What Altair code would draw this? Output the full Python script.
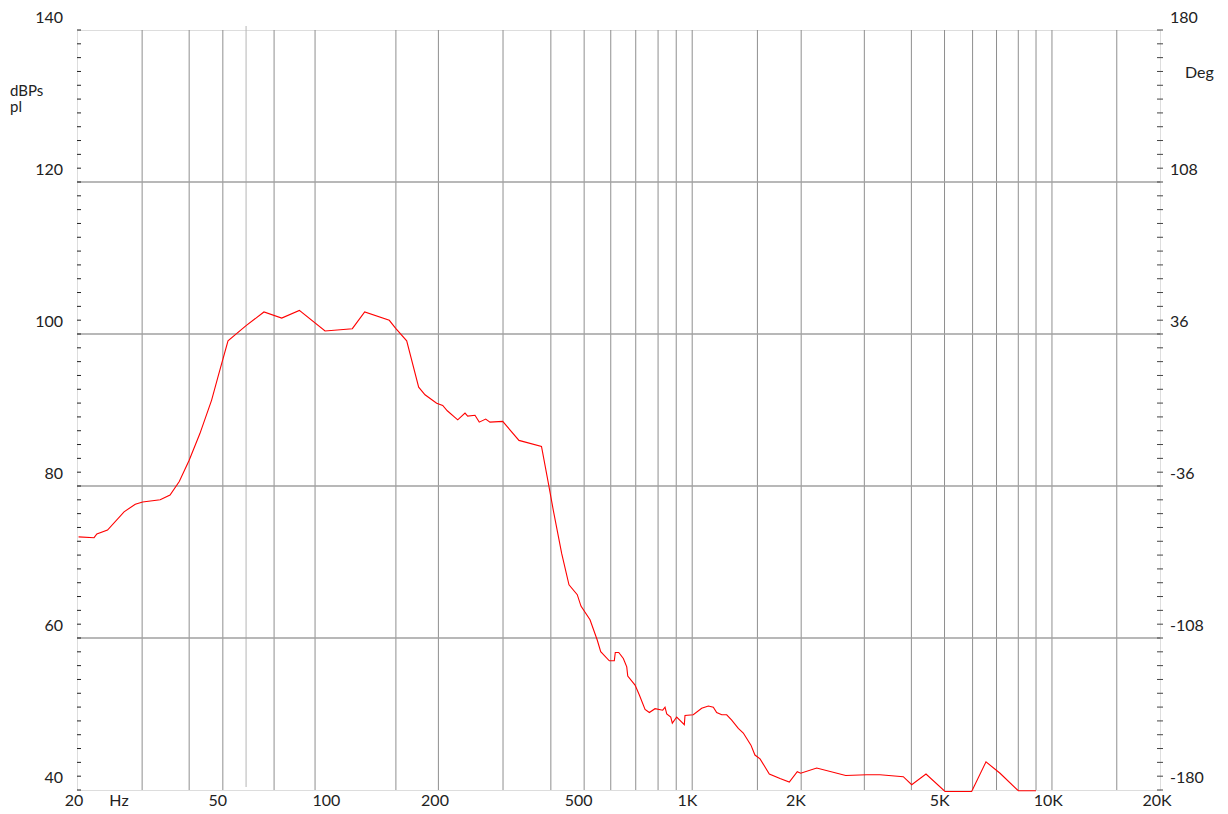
import altair as alt
import pandas as pd

# ---- data ----
freq_hz = [20.2, 22.3, 22.7, 24.3, 27.0, 29.0, 30.4, 34.0, 36.2, 38.4, 40.9, 43.8, 47.2, 49.3, 52.4,
           58.8, 65.9, 73.8, 82.6, 97.3, 115.8, 125.3, 146.6, 152.7, 163.8,
           176.8, 184.1, 198.3, 206.1, 212.2, 226.8, 237.6, 241.7, 253.2, 260.2, 271.1, 278.6, 302.2,
           335.2, 387, 404.2, 417.3, 440.3, 461.2, 486.2, 497.8, 527.4, 552.5, 564.6, 596.4, 615.8, 619.6, 633.4, 652.3, 666.6, 670.9,
           702.9, 722.4, 749.2, 770, 798.4, 838.6, 851, 860.3, 882.6, 891.5, 916.8, 962.4, 966.6,
           1019, 1075, 1122, 1158, 1183, 1222, 1261, 1302, 1358, 1402, 1472, 1510, 1560, 1655, 1772, 1880,
           1978, 2022, 2239, 2694, 3080, 3352, 3890, 4104, 4496, 5076, 6016, 6592, 7210, 8100, 9070]
spl_db = [73.3, 73.2, 73.7, 74.2, 76.6, 77.6, 77.9, 78.2, 78.8, 80.6, 83.4, 86.9, 91.3, 94.6, 99.1,
          101.1, 102.9, 102.1, 103.1, 100.4, 100.7, 102.9, 101.8, 100.75, 99.1,
          93.0, 92.0, 90.9, 90.6, 89.9, 88.7, 89.6, 89.2, 89.3, 88.4, 88.8, 88.4, 88.5,
          86.0, 85.2, 80.4, 76.8, 71.1, 67.0, 65.7, 64.2, 62.4, 59.7, 58.2, 57.0, 57.0, 58.1, 58.1, 57.3, 56.2, 55.0,
          53.8, 52.5, 50.6, 50.2, 50.7, 50.5, 50.9, 50.0, 49.6, 48.8, 49.6, 48.6, 49.8,
          49.9, 50.75, 51.05, 50.9, 50.2, 49.9, 49.9, 49.2, 48.1, 47.5, 45.9, 44.6, 44.1, 42.1, 41.5, 41.05,
          42.4, 42.2, 42.9, 41.9, 42.0, 42.0, 41.75, 40.7, 42.1, 39.8, 39.8, 43.7, 42.2, 39.9, 39.9]

grid_freqs = [30.3, 40.9, 50.7, 70.3, 91.3, 152.9, 200.5, 302.8, 410.8, 508, 602, 706, 814, 914, 1012,
              1534, 2028, 3034, 4096, 5060, 6052, 7050, 8100, 9070, 10040, 15180]
marker_freqs = [58.8]
grid_db = [60, 80, 100, 120]

left_label_db = [140, 120, 100, 80, 60, 40]
left_labels = ["140", "120", "100", "80", "60", "40"]
right_labels = ["180", "108", "36", "-36", "-108", "-180"]
x_label_freqs = [20, 50, 100, 200, 500, 1000, 2000, 5000, 10000, 20000]
x_labels = ["20", "50", "100", "200", "500", "1K", "2K", "5K", "10K", "20K"]
n_minor = 55
minor_ticks = [40 + k * 100 / n_minor for k in range(n_minor + 1)]

W, H = 1083, 760
FONT = "Lato"
TXT = "#222222"
GRID = "#8f8f8f"

xs = alt.Scale(type="log", domain=[20, 20000], nice=False)
ys = alt.Scale(domain=[40, 140], nice=False, zero=False)

curve = pd.DataFrame({"f": freq_hz, "db": spl_db})
vgrid = pd.DataFrame({"f": grid_freqs})
mgrid = pd.DataFrame({"f": marker_freqs})
hgrid = pd.DataFrame({"db": grid_db})
ylab = pd.DataFrame({"db": left_label_db, "l": left_labels, "r": right_labels})
xlab = pd.DataFrame({"f": x_label_freqs, "l": x_labels})
ticks = pd.DataFrame({"db": minor_ticks})
one = pd.DataFrame({"a": [0]})

vlines = alt.Chart(vgrid).mark_rule(color=GRID, strokeWidth=1).encode(
    x=alt.X("f:Q", scale=xs, axis=None))
mline = alt.Chart(mgrid).mark_rule(color="#b5b5b5", strokeWidth=1).encode(
    x=alt.X("f:Q", scale=xs, axis=None), y=alt.value(-4), y2=alt.value(H - 3))
hlines = alt.Chart(hgrid).mark_rule(color="#a0a0a0", strokeWidth=1.3).encode(
    y=alt.Y("db:Q", scale=ys, axis=None))
lticks = alt.Chart(ticks).mark_rule(color="#222222", strokeWidth=1).encode(
    y=alt.Y("db:Q", scale=ys, axis=None), x=alt.value(0), x2=alt.value(4))
rticks = alt.Chart(ticks).mark_rule(color="#444444", strokeWidth=1).encode(
    y=alt.Y("db:Q", scale=ys, axis=None), x=alt.value(W - 3), x2=alt.value(W + 3))

line = alt.Chart(curve).mark_line(color="#ff0000", strokeWidth=1.1).encode(
    x=alt.X("f:Q", scale=xs, axis=None),
    y=alt.Y("db:Q", scale=ys, axis=None))

ltext = alt.Chart(ylab).mark_text(align="right", baseline="middle", dy=-12,
                                  font=FONT, fontSize=16, color=TXT).encode(
    y=alt.Y("db:Q", scale=ys, axis=None), x=alt.value(-14), text="l:N")
rtext = alt.Chart(ylab).mark_text(align="left", baseline="middle", dy=-12,
                                  font=FONT, fontSize=16, color=TXT).encode(
    y=alt.Y("db:Q", scale=ys, axis=None), x=alt.value(W + 10), text="r:N")
xtext = alt.Chart(xlab).mark_text(align="center", baseline="middle", dx=-3,
                                  font=FONT, fontSize=16, color=TXT).encode(
    x=alt.X("f:Q", scale=xs, axis=None), y=alt.value(H + 11), text="l:N")

def note(txt, px, py, size=15):
    return alt.Chart(one).mark_text(text=txt, align="left", baseline="alphabetic",
                                    font=FONT, fontSize=size, color=TXT).encode(
        x=alt.value(px), y=alt.value(py))

units = [note("dBPs", -67, 66), note("pl", -67, 82), note("Deg", W + 25, 48, 16),
         alt.Chart(one).mark_text(text="Hz", align="center", baseline="middle",
                                  font=FONT, fontSize=16, color=TXT).encode(
             x=alt.value(42), y=alt.value(H + 11))]

chart = alt.layer(vlines, mline, hlines, lticks, rticks, line, ltext, rtext, xtext, *units).properties(
    width=W, height=H,
    autosize=alt.AutoSizeParams(type="none"),
    padding={"left": 69, "top": 22, "right": 60, "bottom": 24},
).configure_view(stroke="#888888", strokeWidth=1).configure(background="white")

chart.save("out.html", embed_options={"renderer": "svg", "actions": False})
